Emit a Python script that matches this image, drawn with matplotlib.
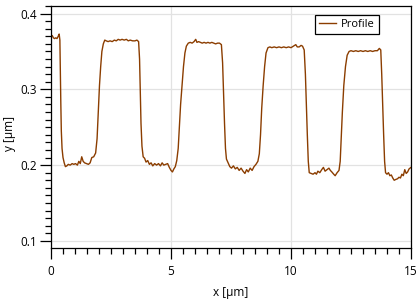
import matplotlib
matplotlib.use("Agg")
import matplotlib.pyplot as plt
from matplotlib.ticker import MultipleLocator

# profile (x and y in micrometres)
x_um = [0.00, 0.05, 0.10, 0.15, 0.20, 0.25, 0.30, 0.34, 0.37, 0.39, 0.41, 0.43, 0.46, 0.50, 0.55, 0.60,
        0.66, 0.72, 0.80, 0.88, 0.95, 1.02, 1.10, 1.16, 1.22, 1.28, 1.34, 1.40, 1.48, 1.56, 1.63, 1.70,
        1.78, 1.86, 1.92, 1.97, 2.02, 2.07, 2.12, 2.18, 2.24, 2.30, 2.38, 2.46, 2.55, 2.64, 2.72, 2.80,
        2.88, 2.96, 3.05, 3.14, 3.22, 3.30, 3.40, 3.50, 3.58, 3.65, 3.69, 3.72, 3.75, 3.79, 3.84, 3.90,
        3.96, 4.03, 4.10, 4.17, 4.24, 4.32, 4.40, 4.48, 4.56, 4.63, 4.70, 4.78, 4.86, 4.93, 5.00, 5.06,
        5.12, 5.18, 5.24, 5.30, 5.35, 5.40, 5.46, 5.52, 5.58, 5.64, 5.72, 5.80, 5.88, 5.96, 6.03, 6.08,
        6.15, 6.22, 6.30, 6.38, 6.46, 6.54, 6.62, 6.70, 6.78, 6.86, 6.94, 7.02, 7.10, 7.15, 7.19, 7.23,
        7.27, 7.31, 7.38, 7.45, 7.52, 7.60, 7.68, 7.76, 7.84, 7.92, 8.00, 8.08, 8.15, 8.22, 8.30, 8.38,
        8.46, 8.54, 8.62, 8.68, 8.73, 8.78, 8.84, 8.90, 8.96, 9.04, 9.12, 9.20, 9.30, 9.40, 9.50, 9.60,
        9.70, 9.80, 9.90, 10.00, 10.10, 10.20, 10.26, 10.34, 10.42, 10.48, 10.55, 10.60, 10.64, 10.68,
        10.72, 10.76, 10.84, 10.92, 11.00, 11.06, 11.12, 11.20, 11.28, 11.35, 11.42, 11.50, 11.58, 11.64,
        11.70, 11.78, 11.84, 11.92, 12.00, 12.05, 12.09, 12.14, 12.20, 12.27, 12.34, 12.42, 12.50, 12.60,
        12.70, 12.80, 12.90, 13.00, 13.10, 13.20, 13.30, 13.40, 13.50, 13.60, 13.68, 13.74, 13.78, 13.82,
        13.86, 13.90, 13.94, 14.00, 14.06, 14.12, 14.18, 14.24, 14.30, 14.36, 14.44, 14.50, 14.56, 14.62,
        14.68, 14.74, 14.80, 14.86, 14.92, 15.00]
y_um = [0.370, 0.371, 0.368, 0.367, 0.368, 0.367, 0.370, 0.373, 0.365, 0.320, 0.280, 0.245, 0.222, 0.210, 0.203, 0.198,
        0.199, 0.201, 0.200, 0.202, 0.201, 0.202, 0.200, 0.205, 0.202, 0.211, 0.205, 0.203, 0.202, 0.201, 0.203, 0.210,
        0.211, 0.216, 0.235, 0.270, 0.305, 0.330, 0.350, 0.360, 0.365, 0.364, 0.363, 0.364, 0.363, 0.365, 0.364, 0.366,
        0.365, 0.366, 0.365, 0.366, 0.364, 0.365, 0.364, 0.364, 0.365, 0.363, 0.340, 0.300, 0.255, 0.225, 0.211, 0.209,
        0.204, 0.206, 0.201, 0.203, 0.199, 0.202, 0.200, 0.202, 0.199, 0.203, 0.200, 0.201, 0.202, 0.197, 0.193, 0.191,
        0.195, 0.198, 0.206, 0.222, 0.250, 0.280, 0.305, 0.330, 0.348, 0.357, 0.361, 0.362, 0.361, 0.363, 0.366, 0.362,
        0.363, 0.362, 0.361, 0.362, 0.361, 0.362, 0.361, 0.362, 0.361, 0.360, 0.361, 0.361, 0.359, 0.335, 0.295, 0.255,
        0.222, 0.208, 0.203, 0.198, 0.196, 0.199, 0.195, 0.197, 0.193, 0.196, 0.192, 0.189, 0.194, 0.191, 0.196, 0.193,
        0.198, 0.201, 0.205, 0.215, 0.240, 0.275, 0.305, 0.330, 0.348, 0.355, 0.356, 0.355, 0.356, 0.355, 0.356, 0.355,
        0.356, 0.355, 0.356, 0.355, 0.357, 0.359, 0.356, 0.356, 0.358, 0.357, 0.352, 0.320, 0.280, 0.240,
        0.205, 0.190, 0.189, 0.188, 0.190, 0.188, 0.192, 0.190, 0.194, 0.197, 0.192, 0.194, 0.196, 0.193,
        0.191, 0.188, 0.186, 0.190, 0.193, 0.205, 0.235, 0.270, 0.305, 0.330, 0.345, 0.350, 0.351, 0.350,
        0.351, 0.350, 0.351, 0.350, 0.351, 0.350, 0.351, 0.350, 0.351, 0.351, 0.354, 0.352, 0.320, 0.280,
        0.240, 0.205, 0.190, 0.188, 0.190, 0.186, 0.187, 0.183, 0.180, 0.181, 0.182, 0.184, 0.183, 0.188,
        0.186, 0.194, 0.189, 0.191, 0.195, 0.197]

plt.rcParams['font.family'] = ['Open Sans', 'DejaVu Sans']

fig = plt.figure(figsize=(4.18, 2.99), dpi=100)
ax = fig.add_axes([51 / 418, 1 - 248 / 299, 360 / 418, 242 / 299])

ax.plot(x_um, y_um, color='#8b3d00', linewidth=1.0, label='Profile')

ax.set_xlim(0, 15)
ax.set_ylim(0.0906, 0.410)
ax.xaxis.set_minor_locator(MultipleLocator(0.5))
ax.yaxis.set_minor_locator(MultipleLocator(0.01))
ax.set_xticks([0, 5, 10, 15])
ax.set_xticklabels(['0', '5', '10', '15'])
ax.set_yticks([0.1, 0.2, 0.3, 0.4])
ax.set_yticklabels(['0.1', '0.2', '0.3', '0.4'])

ax.tick_params(which='major', direction='out', length=8, width=0.9, labelsize=8.5, colors='black')
ax.tick_params(axis='x', which='major', pad=4)
ax.tick_params(axis='y', which='major', pad=2)
ax.tick_params(which='minor', direction='out', length=4.3, width=0.9)
ax.grid(True, which='major', color='#e2e2e2', linewidth=0.9)
ax.set_axisbelow(True)

for side in ['top', 'right', 'bottom', 'left']:
    ax.spines[side].set_linewidth(0.9)
    ax.spines[side].set_color('black')

ax.set_xlabel('x [µm]', fontsize=8.5, labelpad=6)
ax.set_ylabel('y [µm]', fontsize=8.5)
ax.yaxis.set_label_coords(-0.097, 0.475)

leg = ax.legend(loc='upper right', bbox_to_anchor=(0.911, 0.963), fontsize=8, frameon=True,
                fancybox=False, framealpha=1, edgecolor='black', handlelength=1.5,
                handletextpad=0.5, borderpad=0.35, borderaxespad=0)
leg.get_frame().set_linewidth(0.9)

fig.savefig('out.png', dpi=100)
